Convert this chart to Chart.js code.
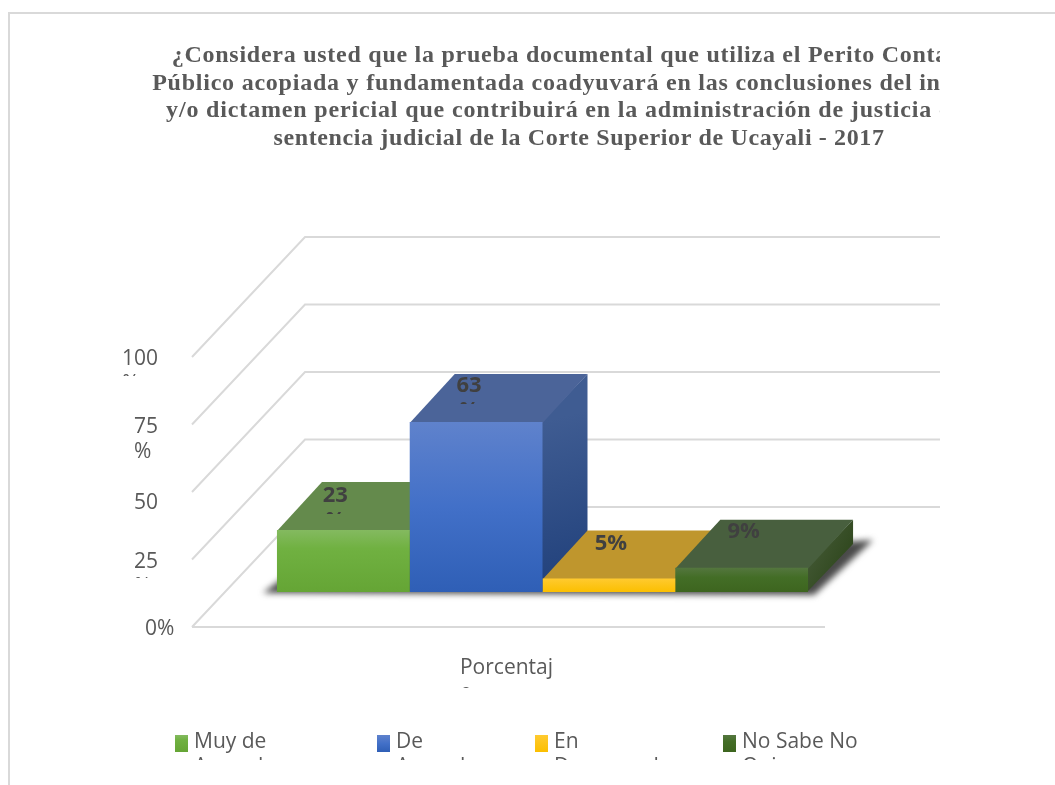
<!DOCTYPE html>
<html>
<head>
<meta charset="utf-8">
<title>Prueba documental</title>
<script src="https://cdn.jsdelivr.net/npm/chart.js@4/dist/chart.umd.min.js"></script>
<style>
    html, body { margin: 0; padding: 0; background: #fff; overflow: hidden; }
    #frame { position: absolute; left: 8px; top: 12px; width: 1047px; height: 773px; border-top: 2px solid #d9d9d9; border-left: 2px solid #d9d9d9; }
    #chart { position: absolute; left: 0; top: 0; }
</style>
</head>
<body>
<div id="frame"></div>
<canvas id="chart" width="940" height="785"></canvas>
<script>
// data
var categories = ['Porcentaje'];
var seriesNames = ['Muy de Acuerdo', 'De Acuerdo', 'En Desacuerdo', 'No Sabe No Opina'];
var seriesValues = [23, 63, 5, 9];
var tickValues = [0, 25, 50, 75, 100];
var tickLabels = ['0%', '25%', '50%', '75%', '100%'];
var titleLines = [
    '¿Considera usted que la prueba documental que utiliza el Perito Contador',
    'Público acopiada y fundamentada coadyuvará en las conclusiones del informe',
    'y/o dictamen pericial que contribuirá en la administración de justicia en la',
    'sentencia judicial de la Corte Superior de Ucayali - 2017'
];

// colours
var frontStops = [
    [[0, '#84ba60'], [0.3, '#70b141'], [1, '#65a535']],
    [[0, '#5f82cc'], [0.5, '#4270c8'], [1, '#2f5fb6']],
    [[0, '#ffca30'], [1, '#fbbf00']],
    [[0, '#54763f'], [0.4, '#436d26'], [1, '#3d651f']]
];
var topColors = ['#648a4c', '#4b6499', '#bf962d', '#485f3e'];
var sideColors = [['#4f7a35', '#3d6526'], ['#3f5c92', '#1f3f7a'], ['#a98410', '#8c6d05'], ['#3f5530', '#263f12']];
var gridColor = '#d9d9d9';
var axisTextColor = '#595959';
var titleColor = '#595959';
var labelColor = '#404040';

// 3d layout
var wallDepth = { x: 113, y: -120 };
var barShift = { x: 34, y: -35 };
var barDepth = { x: 45, y: -48 };

function frontGradient(c, i, top, bottom) {
    var g = c.createLinearGradient(0, top, 0, bottom);
    frontStops[i].forEach(function (s) { g.addColorStop(s[0], s[1]); });
    return g;
}

function clippedLines(c, lines, x, y, lineHeight, clipBottom) {
    c.save();
    c.beginPath();
    c.rect(0, 0, 940, clipBottom);
    c.clip();
    lines.forEach(function (t, i) { c.fillText(t, x, y + i * lineHeight); });
    c.restore();
}

// wraps like the narrow boxes of the original chart
function wrapPercent(label) { return label.length > 2 ? [label.slice(0, -1), '%'] : [label]; }

var titleSpacing = [0.74, 0.77, 0.84, 0.63];
var tickClip = { 0: 645, 25: 578, 50: 514, 75: 470, 100: 376 };
var tickLeft = { 0: 145, 25: 134, 50: 134, 75: 134, 100: 122 };
var tickNudge = { 0: 2, 25: 3, 50: 11, 75: 3, 100: 2 };

var legendX = [175, 377, 535, 723];
var legendLines = [['Muy de', 'Acuerdo'], ['De', 'Acuerdo'], ['En', 'Desacuerdo'], ['No Sabe No', 'Opina']];
var valueOffset = [[-8, -34], [-7, -36], [2, -35], [2, -36]];

var scene = {
    id: 'scene',
    beforeDatasetsDraw: function (chart) {
        var c = chart.ctx, y = chart.scales.y, area = chart.chartArea;
        // gridlines
        c.save();
        c.strokeStyle = gridColor;
        c.lineWidth = 2;
        tickValues.forEach(function (v) {
            var py = y.getPixelForValue(v);
            c.beginPath();
            c.moveTo(area.left, py);
            c.lineTo(area.left + wallDepth.x, py + wallDepth.y);
            c.lineTo(940, py + wallDepth.y);
            c.stroke();
        });
        c.beginPath();
        c.moveTo(area.left, area.bottom);
        c.lineTo(area.right, area.bottom);
        c.stroke();
        c.restore();

        // floor shadow + top and side faces, left to right
        var bars = chart.getSortedVisibleDatasetMetas().map(function (m) { return m.data[0]; });
        var left = bars[0].x - bars[0].width / 2 + barShift.x;
        var lastBar = bars[bars.length - 1];
        var right = lastBar.x + lastBar.width / 2 + barShift.x;
        var floor = lastBar.base + barShift.y;
        c.save();
        c.filter = 'blur(3px)';
        c.fillStyle = '#4a4a4a';
        c.beginPath();
        c.moveTo(left - 14, floor + 1);
        c.lineTo(left + 6, floor - 14);
        c.lineTo(right + barDepth.x + 20, floor + barDepth.y - 4);
        c.lineTo(right + 6, floor + 3);
        c.closePath();
        c.fill();
        c.restore();

        c.save();
        c.translate(barShift.x, barShift.y);
        bars.forEach(function (b, i) {
            var l = b.x - b.width / 2, r = b.x + b.width / 2;
            var g = c.createLinearGradient(r, b.y, r + barDepth.x, b.base);
            g.addColorStop(0, sideColors[i][0]);
            g.addColorStop(1, sideColors[i][1]);
            c.fillStyle = g;
            c.beginPath();
            c.moveTo(r - 1, b.y);
            c.lineTo(r + barDepth.x, b.y + barDepth.y);
            c.lineTo(r + barDepth.x, b.base + barDepth.y);
            c.lineTo(r - 1, b.base);
            c.closePath();
            c.fill();
            c.fillStyle = topColors[i];
            c.beginPath();
            c.moveTo(l, b.y + 1);
            c.lineTo(l + barDepth.x, b.y + barDepth.y);
            c.lineTo(r + barDepth.x, b.y + barDepth.y);
            c.lineTo(r, b.y + 1);
            c.closePath();
            c.fill();
        });
        c.restore();

        // the fronts are drawn by Chart.js on the shifted plane
        c.save();
        c.translate(barShift.x, barShift.y);
    },
    afterDatasetsDraw: function (chart) {
        var c = chart.ctx, y = chart.scales.y, x = chart.scales.x;
        c.restore();

        // value labels
        c.save();
        c.font = 'bold 22px "Open Sans"';
        c.fillStyle = labelColor;
        c.textAlign = 'center';
        c.textBaseline = 'middle';
        chart.getSortedVisibleDatasetMetas().forEach(function (m, i) {
            var b = m.data[0];
            var lx = b.x + barShift.x + valueOffset[i][0];
            var ly = b.y + barShift.y + valueOffset[i][1];
            clippedLines(c, wrapPercent(seriesValues[i] + '%'), lx, ly, 25, ly + 18);
        });
        c.restore();

        // title
        c.save();
        c.font = 'bold 24px "Liberation Serif"';
        c.fillStyle = titleColor;
        c.textAlign = 'center';
        c.textBaseline = 'middle';
        titleLines.forEach(function (line, i) {
            c.letterSpacing = titleSpacing[i] + 'px';
            c.fillText(line, 579, 56 + i * 27.5);
        });
        c.restore();

        // axis text
        c.save();
        c.font = '21px "Open Sans"';
        c.fillStyle = axisTextColor;
        c.textAlign = 'left';
        c.textBaseline = 'middle';
        tickValues.forEach(function (v, i) {
            var py = y.getPixelForValue(v) + tickNudge[v];
            var lines = v === 0 ? [tickLabels[i]] : wrapPercent(tickLabels[i]);
            clippedLines(c, lines, tickLeft[v], py, 25, tickClip[v]);
        });

        var cat = categories[0];
        var catWidth = c.measureText(cat.slice(0, -1)).width;
        clippedLines(c, [cat.slice(0, -1), cat.slice(-1)], x.getPixelForValue(0) - 2 - catWidth / 2, 668, 25, 688);

        // legend
        seriesNames.forEach(function (name, i) {
            c.fillStyle = frontGradient(c, i, 735, 752);
            c.fillRect(legendX[i], 735, 13, 17);
            c.fillStyle = axisTextColor;
            clippedLines(c, legendLines[i], legendX[i] + 19, 742, 25, 760);
        });
        c.restore();
    }
};

var datasets = seriesNames.map(function (name, i) {
    return {
        label: name,
        data: [seriesValues[i]],
        backgroundColor: function (ctx) {
            var s = ctx.chart.scales.y;
            var top = s ? s.getPixelForValue(seriesValues[i]) : NaN;
            var bottom = s ? s.getPixelForValue(0) : NaN;
            if (!isFinite(top) || !isFinite(bottom)) return frontStops[i][0][1];
            return frontGradient(ctx.chart.ctx, i, top, bottom);
        },
        borderWidth: 0,
        categoryPercentage: 0.839,
        barPercentage: 1
    };
});

new Chart(document.getElementById('chart'), {
    type: 'bar',
    data: { labels: categories, datasets: datasets },
    plugins: [scene],
    options: {
        responsive: false,
        animation: false,
        layout: { padding: { left: 192, right: 115, top: 357, bottom: 158 } },
        plugins: {
            legend: { display: false },
            title: { display: false },
            tooltip: { enabled: false }
        },
        scales: {
            x: { display: false },
            y: { display: false, min: 0, max: 100, ticks: { stepSize: 25 } }
        }
    }
});
</script>
</body>
</html>
